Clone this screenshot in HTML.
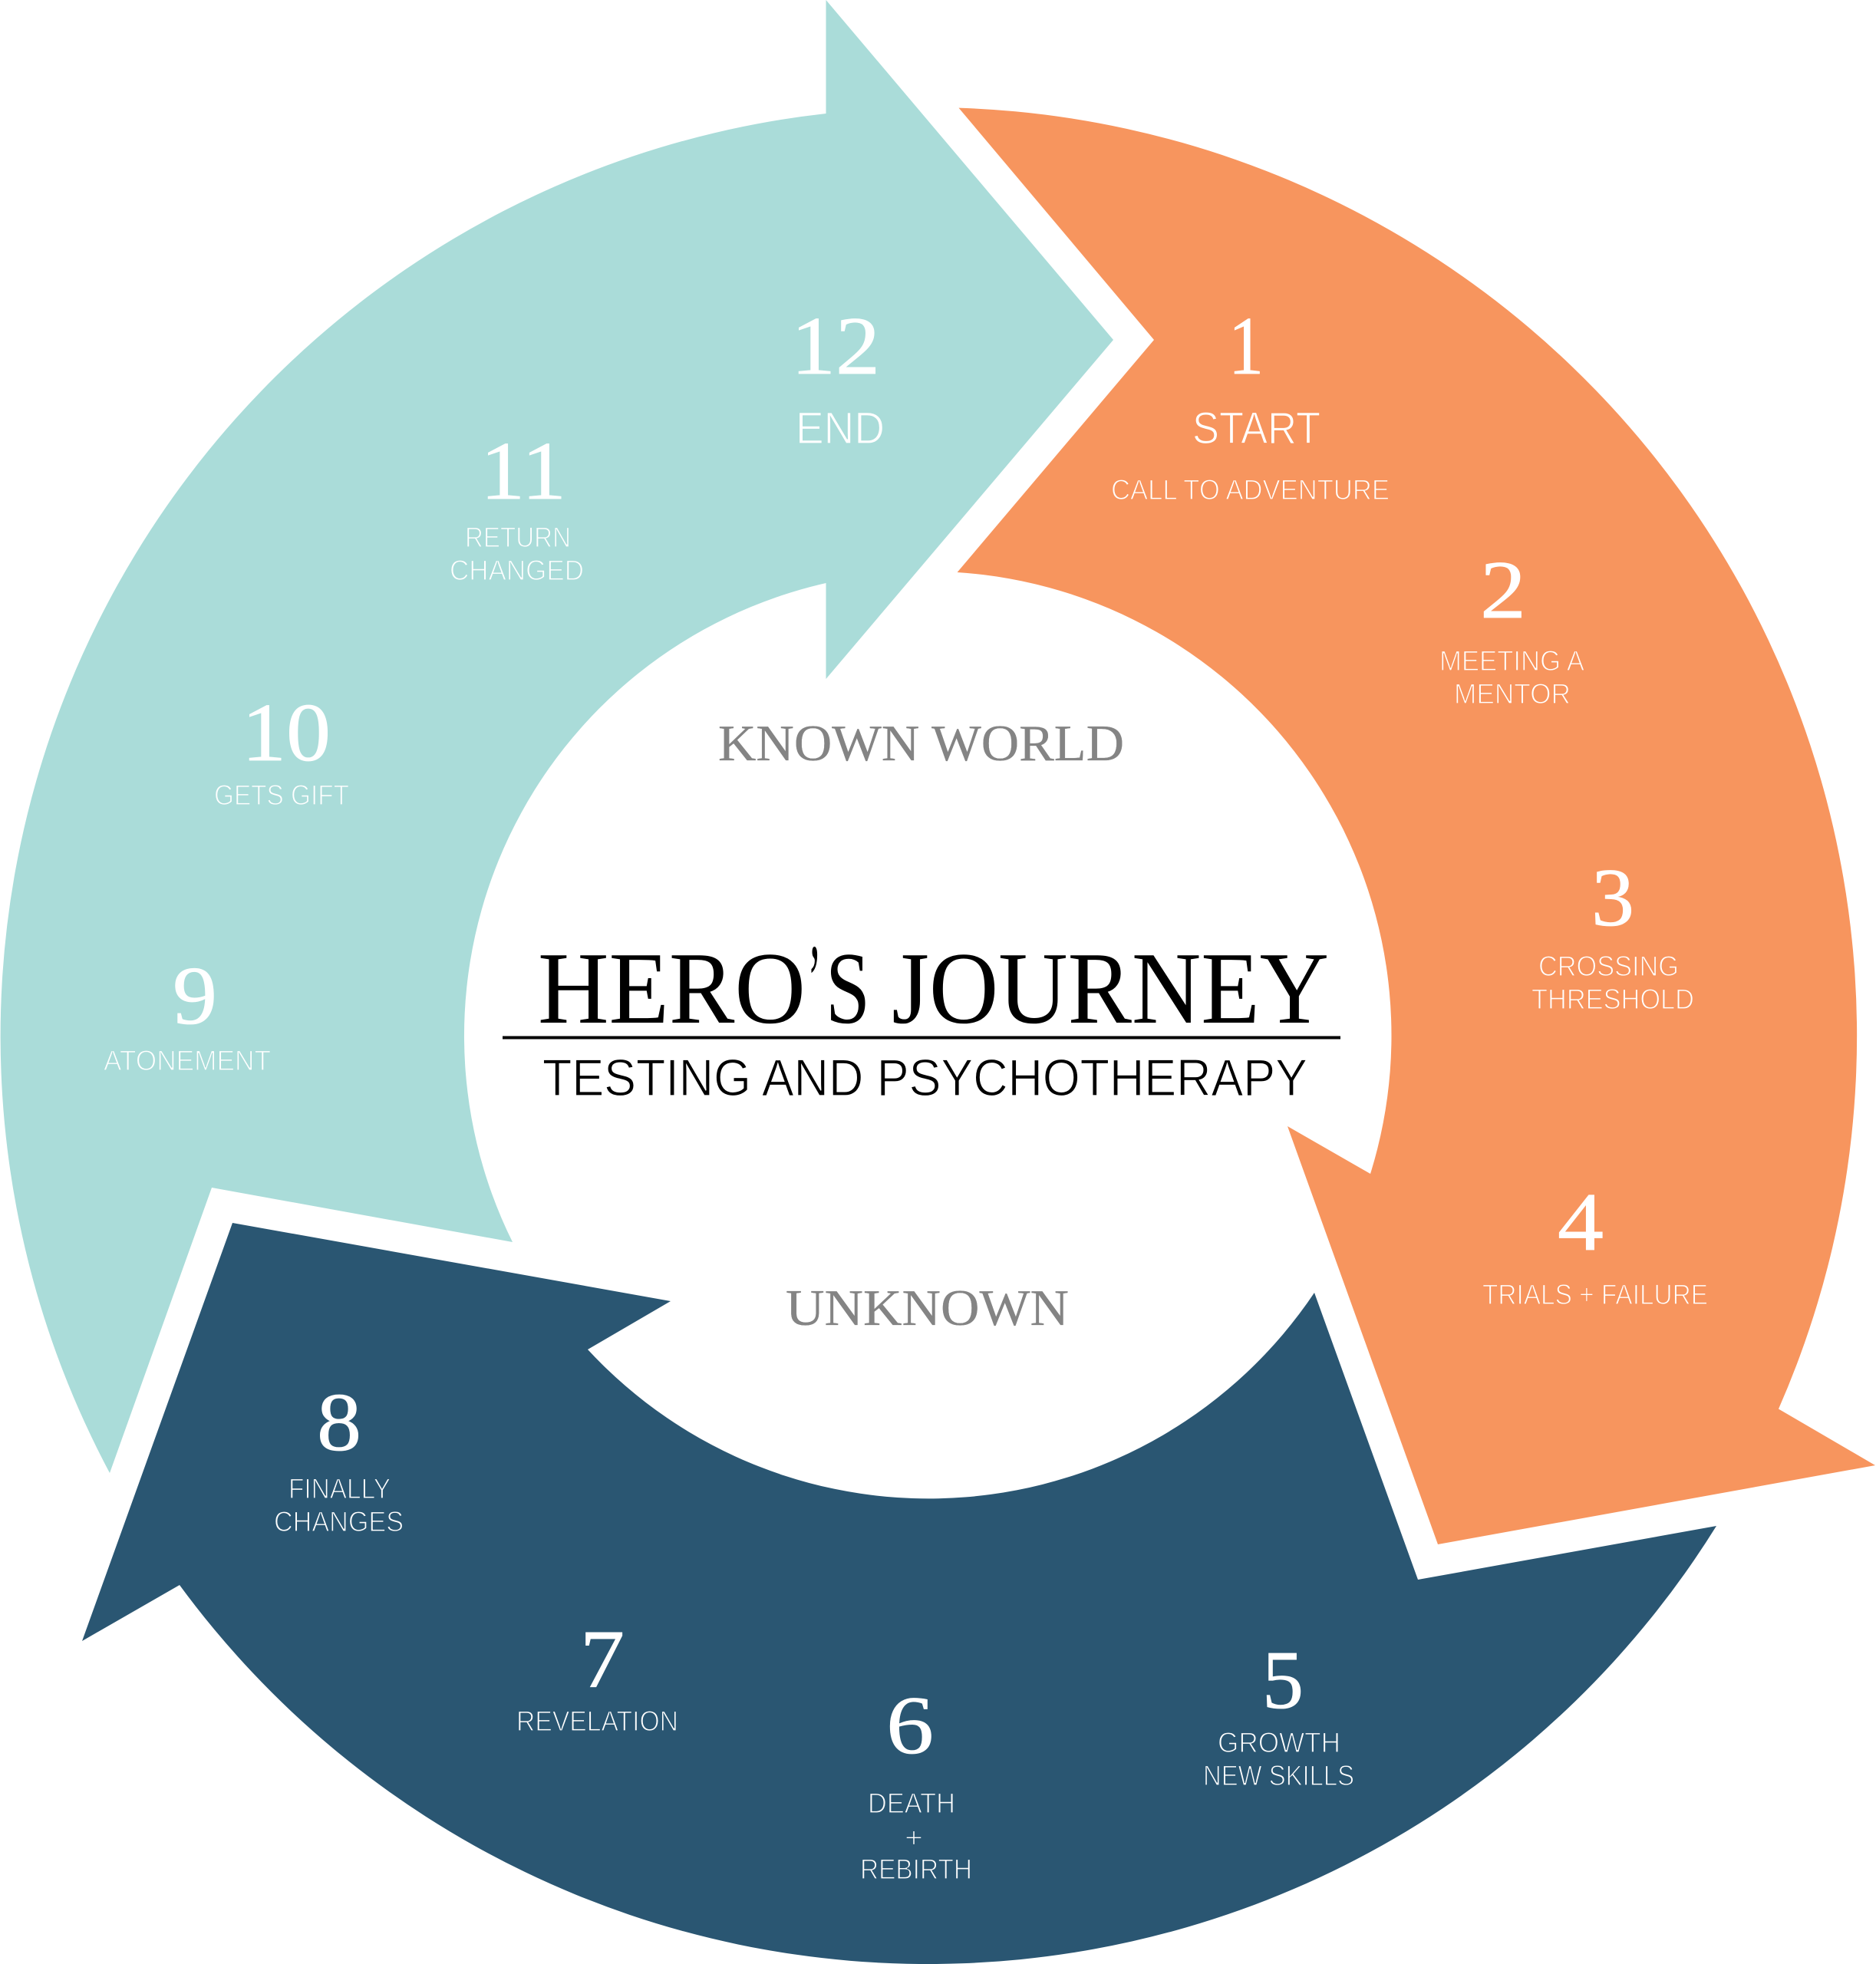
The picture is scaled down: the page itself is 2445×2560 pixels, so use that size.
<!DOCTYPE html>
<html lang="en"><head><meta charset="utf-8"><title>Hero's Journey</title>
<style>
html,body{margin:0;padding:0;background:#fff;width:2445px;height:2560px;overflow:hidden}
svg{display:block}
text{white-space:pre}
.n{font-family:"Liberation Serif",serif;fill:#fff;stroke:#fff;stroke-width:.8px;font-size:108px}
.l{font-family:"Liberation Sans",sans-serif;fill:#fff;paint-order:normal;stroke-width:1.3px}
.o{stroke:#f7955e}.t{stroke:#aadcd9}.b{stroke:#2a5672}
</style></head><body>
<svg width="2445" height="2560" viewBox="0 0 2445 2560" xmlns="http://www.w3.org/2000/svg">
<path fill="#aadcd9" d="M143,1920 A1210,1210 0 0 1 1076.5,148 L1076.5,0 L1451,443 L1076.5,885 L1076.5,760 A605,605 0 0 0 668,1619 L276,1548 Z"/>
<path fill="#f7955e" d="M1249.5,140.6 A1210,1210 0 0 1 2318,1836.5 L2444,1910 L1874,2013 L1678,1468 L1786,1530 A605,605 0 0 0 1247.6,746 L1504,443 Z"/>
<path fill="#2a5672" d="M2237,1989 A1210,1210 0 0 1 234,2066 L107,2139 L303,1594 L874,1696 L766,1759 A605,605 0 0 0 1713,1685 L1848,2059 Z"/>

<g class="n">
<text x="1601" y="487" textLength="46" lengthAdjust="spacingAndGlyphs">1</text>
<text x="1929" y="805" textLength="60" lengthAdjust="spacingAndGlyphs">2</text>
<text x="2074" y="1206" textLength="56" lengthAdjust="spacingAndGlyphs">3</text>
<text x="2030" y="1629" textLength="60" lengthAdjust="spacingAndGlyphs">4</text>
<text x="1645" y="2226" textLength="54" lengthAdjust="spacingAndGlyphs">5</text>
<text x="1155" y="2285" textLength="62" lengthAdjust="spacingAndGlyphs">6</text>
<text x="756" y="2199" textLength="58" lengthAdjust="spacingAndGlyphs">7</text>
<text x="413" y="1890" textLength="58" lengthAdjust="spacingAndGlyphs">8</text>
<text x="225" y="1334" textLength="58" lengthAdjust="spacingAndGlyphs">9</text>
<text x="315" y="991" textLength="116" lengthAdjust="spacingAndGlyphs">10</text>
<text x="626" y="650" textLength="112" lengthAdjust="spacingAndGlyphs">11</text>
<text x="1031" y="487" textLength="116" lengthAdjust="spacingAndGlyphs">12</text>
</g>

<g class="l">
<text class="o" x="1554" y="578" font-size="58" textLength="167" lengthAdjust="spacingAndGlyphs">START</text>
<text class="o" x="1448" y="651" font-size="37" textLength="363" lengthAdjust="spacingAndGlyphs">CALL TO ADVENTURE</text>
<text class="o" x="1876" y="874" font-size="37" textLength="189" lengthAdjust="spacingAndGlyphs">MEETING A</text>
<text class="o" x="1895" y="917" font-size="37" textLength="152" lengthAdjust="spacingAndGlyphs">MENTOR</text>
<text class="o" x="2005" y="1272" font-size="37" textLength="183" lengthAdjust="spacingAndGlyphs">CROSSING</text>
<text class="o" x="1996" y="1315" font-size="37" textLength="212" lengthAdjust="spacingAndGlyphs">THRESHOLD</text>
<text class="o" x="1932" y="1700" font-size="37" textLength="294" lengthAdjust="spacingAndGlyphs">TRIALS + FAILURE</text>

<text class="b" x="1587" y="2284" font-size="37" textLength="160" lengthAdjust="spacingAndGlyphs">GROWTH</text>
<text class="b" x="1568" y="2327" font-size="37" textLength="197" lengthAdjust="spacingAndGlyphs">NEW SKILLS</text>
<text class="b" x="1131" y="2363" font-size="37" textLength="114" lengthAdjust="spacingAndGlyphs">DEATH</text>
<text class="b" x="1179" y="2408" font-size="37" textLength="24" lengthAdjust="spacingAndGlyphs">+</text>
<text class="b" x="1121" y="2449" font-size="37" textLength="146" lengthAdjust="spacingAndGlyphs">REBIRTH</text>
<text class="b" x="673" y="2256" font-size="37" textLength="211" lengthAdjust="spacingAndGlyphs">REVELATION</text>
<text class="b" x="376" y="1953" font-size="37" textLength="133" lengthAdjust="spacingAndGlyphs">FINALLY</text>
<text class="b" x="357" y="1996" font-size="37" textLength="169" lengthAdjust="spacingAndGlyphs">CHANGES</text>

<text class="t" x="135" y="1395" font-size="37" textLength="218" lengthAdjust="spacingAndGlyphs">ATONEMENT</text>
<text class="t" x="279" y="1049" font-size="37" textLength="176" lengthAdjust="spacingAndGlyphs">GETS GIFT</text>
<text class="t" x="606" y="713" font-size="37" textLength="138" lengthAdjust="spacingAndGlyphs">RETURN</text>
<text class="t" x="586" y="756" font-size="37" textLength="175" lengthAdjust="spacingAndGlyphs">CHANGED</text>
<text class="t" x="1037" y="578" font-size="58" textLength="116" lengthAdjust="spacingAndGlyphs">END</text>
</g>

<text x="936" y="991" font-family="'Liberation Serif',serif" font-size="67" fill="#848484" stroke="#848484" stroke-width=".3" textLength="529" lengthAdjust="spacingAndGlyphs">KNOWN WORLD</text>
<text x="1024" y="1727" font-family="'Liberation Serif',serif" font-size="67" fill="#848484" stroke="#848484" stroke-width=".3" textLength="369" lengthAdjust="spacingAndGlyphs">UNKNOWN</text>

<text y="1333" font-family="'Liberation Serif',serif" font-size="134" fill="#000"><tspan x="701" textLength="349" lengthAdjust="spacingAndGlyphs">HERO</tspan><tspan x="1053" y="1323" textLength="17" lengthAdjust="spacingAndGlyphs">’</tspan><tspan x="1076" y="1333" textLength="58" lengthAdjust="spacingAndGlyphs">S</tspan><tspan x="1131" textLength="601" lengthAdjust="spacingAndGlyphs"> JOURNEY</tspan></text>
<rect x="655" y="1350.5" width="1092" height="4" fill="#000"/>
<text x="707" y="1428" font-family="'Liberation Sans',sans-serif" font-size="68" fill="#000" stroke="#fff" stroke-width="1.2" textLength="997" lengthAdjust="spacingAndGlyphs">TESTING AND PSYCHOTHERAPY</text>
</svg>
</body></html>
